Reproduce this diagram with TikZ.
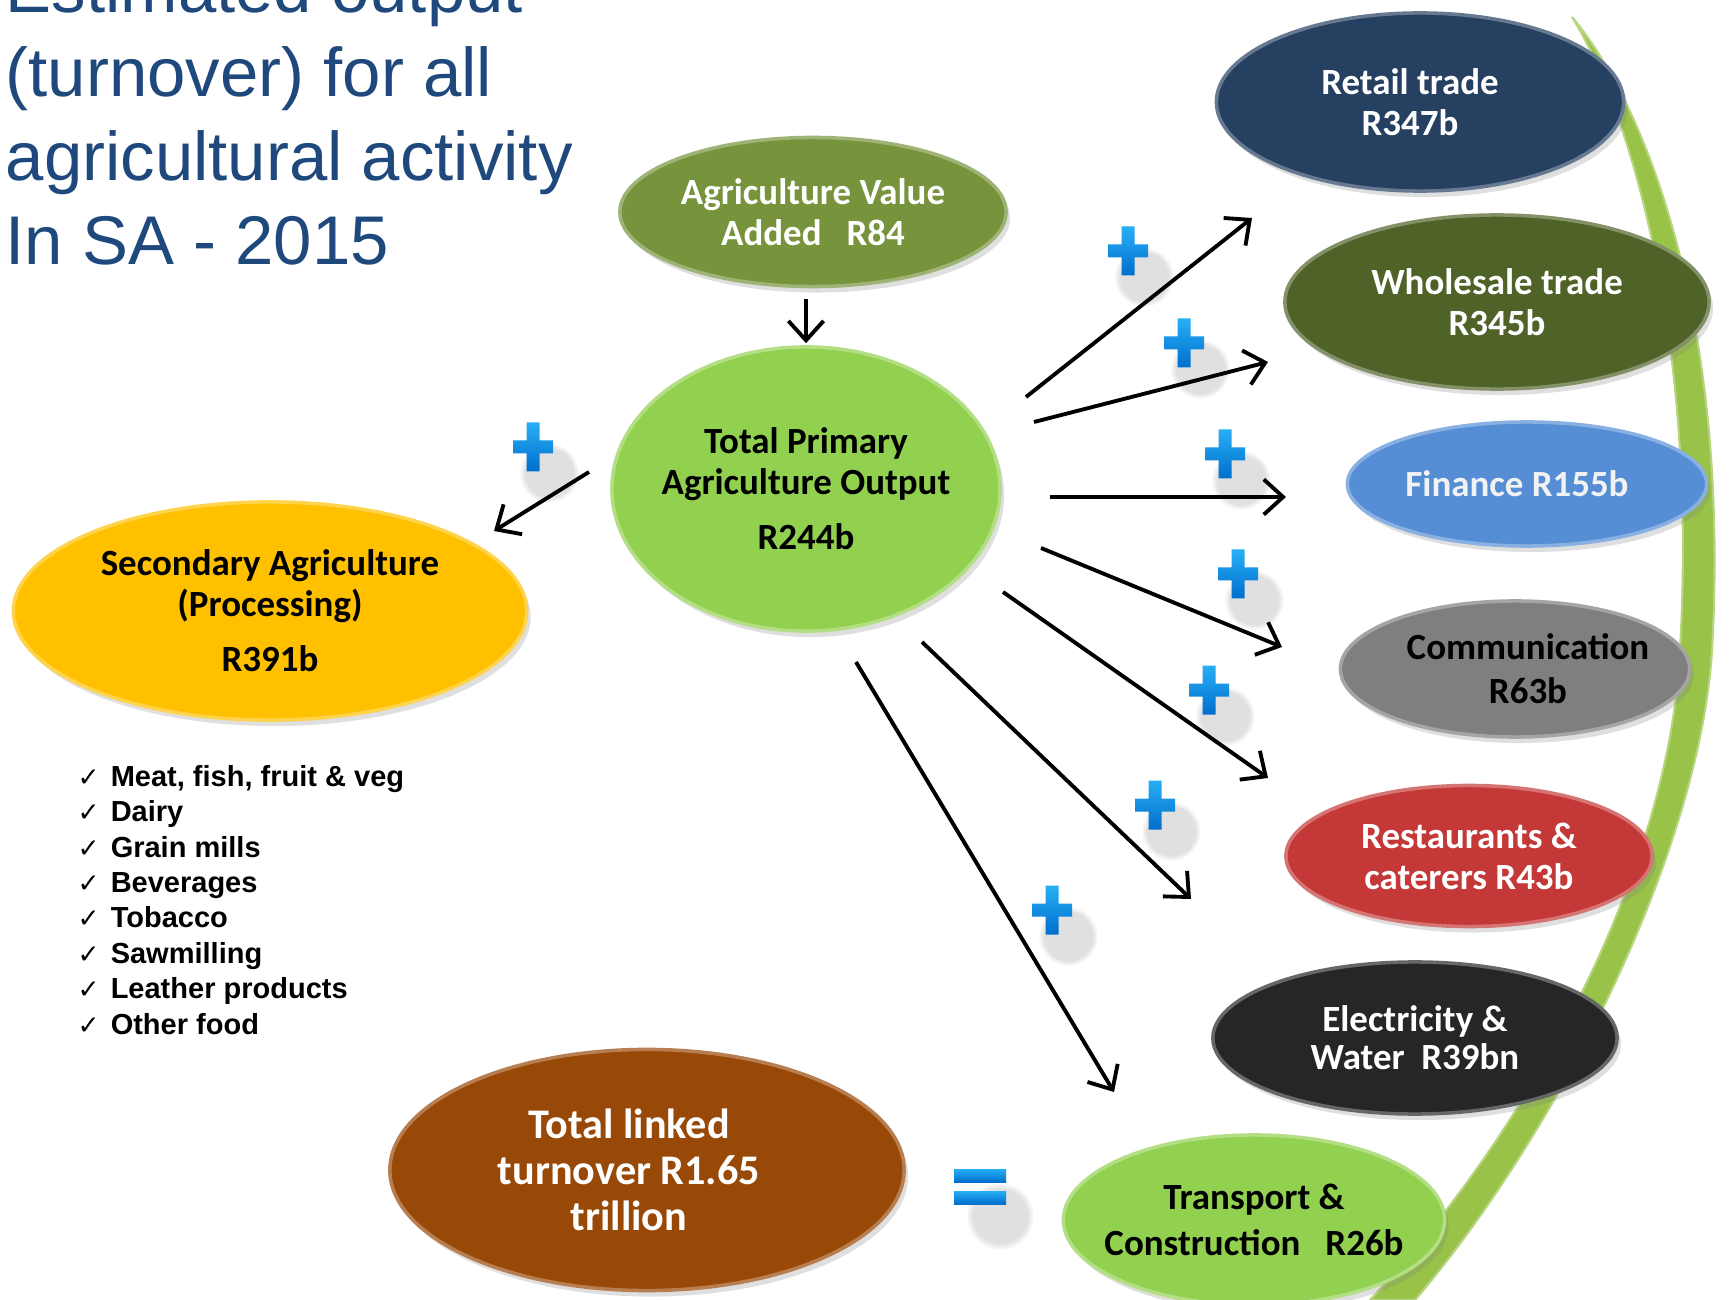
\documentclass[tikz,border=0pt]{standalone}
\usepackage{fontspec}
\setmainfont{Carlito}
\newfontfamily\arialfont{Liberation Sans}
\newfontfamily\tickfont{DejaVu Sans}
\usetikzlibrary{shapes.geometric,arrows.meta,shadows,fadings}

\definecolor{titleblue}{RGB}{31,73,125}
\definecolor{oliveleaf}{RGB}{119,147,60}
\definecolor{limegreen}{RGB}{146,208,80}
\definecolor{amber}{RGB}{255,192,0}
\definecolor{navyblob}{RGB}{38,64,97}
\definecolor{mossgreen}{RGB}{79,98,40}
\definecolor{skyblob}{RGB}{85,142,213}
\definecolor{greyblob}{RGB}{127,127,127}
\definecolor{redblob}{RGB}{196,56,56}
\definecolor{coalblob}{RGB}{38,38,38}
\definecolor{rustblob}{RGB}{152,72,7}
\definecolor{stemgreen}{RGB}{152,194,72}
\definecolor{plustop}{RGB}{40,175,245}
\definecolor{plusbot}{RGB}{0,110,205}

\newcommand{\checkitem}{\makebox[9.4pt][l]{\tickfont\mdseries\fontsize{7.5}{9}\selectfont ✓}}
% nudge a text line sideways inside its blob
\newcommand{\nudge}[1]{\hspace*{#1}}

\pgfdeclarelayer{edgelayer}
\pgfdeclarelayer{nodelayer}
\pgfsetlayers{edgelayer,nodelayer,main}
\tikzstyle{none}=[inner sep=0pt]
\tikzset{blob/.style={ellipse,fill=#1,draw=#1!70!white,line width=1pt,inner xsep=-0.5cm,inner ysep=-0.3cm,align=center,
    font=\bfseries\fontsize{10.5}{11.7}\selectfont,
    drop shadow={opacity=0.25,shadow xshift=0.04cm,shadow yshift=-0.06cm}}}
\tikzstyle{flow_arrow}=[-{Straight Barb[length=5.5pt,width=10pt]},draw=black,line width=1.1pt]
\tikzstyle{stem}=[fill=stemgreen,draw=stemgreen!70!white,line width=0.6pt]
\tikzset{plus_sign/.pic={
    \fill[black,opacity=0.12,path fading=circle with fuzzy edge 20 percent] (16,26) circle (30);
    \shade[top color=plustop,bottom color=plusbot] (-20,-6.5) -- (-6.5,-6.5) -- (-6.5,-24.5) -- (6.5,-24.5)
      -- (6.5,-6.5) -- (20,-6.5) -- (20,6.5) -- (6.5,6.5) -- (6.5,24.5) -- (-6.5,24.5) -- (-6.5,6.5)
      -- (-20,6.5) -- cycle;
  },
  equal_sign/.pic={
    \fill[black,opacity=0.12,path fading=circle with fuzzy edge 20 percent] (20,30) circle (34);
    \shade[top color=plustop,bottom color=plusbot] (-26,-17) rectangle (26,-4);
    \shade[top color=plustop,bottom color=plusbot] (-26,5) rectangle (26,18);
  }}

\begin{document}
\begin{tikzpicture}[x=0.01cm,y=-0.01cm]
	\useasboundingbox (0,0) rectangle (1729,1300);
	\begin{pgfonlayer}{edgelayer}
		\fill[white] (0,0) rectangle (1729,1300);
		\path[style=stem] (1572,17) .. controls (1650,110) and (1730,330) .. (1712,650)
			.. controls (1700,850) and (1560,1130) .. (1415,1300) -- (1370,1300)
			.. controls (1530,1130) and (1670,870) .. (1680,650)
			.. controls (1698,340) and (1630,110) .. (1572,17) -- cycle;
	\end{pgfonlayer}
	\begin{pgfonlayer}{nodelayer}
		\node [blob=oliveleaf, minimum width=3.86cm, minimum height=1.49cm, text=white] (0) at (813,212) {Agriculture Value\\Added~~~R84};
		\node [blob=limegreen, minimum width=3.88cm, minimum height=2.84cm] (1) at (806,489) {Total Primary\\Agriculture Output\\[4pt]R244b};
		\node [blob=amber, minimum width=5.13cm, minimum height=2.18cm] (2) at (270,611) {Secondary Agriculture\\(Processing)\\[4pt]R391b};
		\node [blob=navyblob, minimum width=4.07cm, minimum height=1.78cm, text=white] (3) at (1420,102) {\nudge{-0.2cm}Retail trade\\\nudge{-0.2cm}R347b};
		\node [blob=mossgreen, minimum width=4.24cm, minimum height=1.74cm, text=white] (4) at (1497,302) {Wholesale trade\\R345b};
		\node [blob=skyblob, minimum width=3.59cm, minimum height=1.24cm, text=black!5] (5) at (1527,484) {\nudge{-0.2cm}Finance R155b};
		\node [blob=greyblob, minimum width=3.49cm, minimum height=1.36cm, font=\bfseries\fontsize{10.5}{12.5}\selectfont] (6) at (1515,669) {\nudge{0.26cm}Communication\\\nudge{0.26cm}R63b};
		\node [blob=redblob, minimum width=3.66cm, minimum height=1.41cm, text=white] (7) at (1469,856) {Restaurants \&\\caterers R43b};
		\node [blob=coalblob, minimum width=4.04cm, minimum height=1.52cm, text=white, font=\bfseries\fontsize{10.5}{10.8}\selectfont] (8) at (1415,1038) {Electricity \&\\Water~~R39bn};
		\node [blob=limegreen, minimum width=3.81cm, minimum height=1.7cm, font=\bfseries\fontsize{10.5}{13.1}\selectfont] (9) at (1254,1220) {Transport \&\\Construction~~~R26b};
		\node [blob=rustblob, minimum width=5.14cm, minimum height=2.41cm, text=white, font=\bfseries\fontsize{12}{13.1}\selectfont] (10) at (647,1170) {\nudge{-0.36cm}Total linked\\\nudge{-0.36cm}turnover R1.65\\\nudge{-0.36cm}trillion};
		\pic (11) at (533,447) {plus_sign};
		\pic (12) at (1128,251) {plus_sign};
		\pic (13) at (1184,343) {plus_sign};
		\pic (14) at (1225,454) {plus_sign};
		\pic (15) at (1238,574) {plus_sign};
		\pic (16) at (1209,690) {plus_sign};
		\pic (17) at (1155,805) {plus_sign};
		\pic (18) at (1052,910) {plus_sign};
		\pic (19) at (980,1186) {equal_sign};
	\end{pgfonlayer}
	\node [style=none, anchor=base west, align=left, text=titleblue, font=\arialfont\fontsize{19.6}{23.9}\selectfont] (20) at (5,265) {Estimated output\\(turnover) for all\\agricultural activity\\In SA - 2015};
	\node [style=none, anchor=base west, align=left, font=\arialfont\bfseries\fontsize{8.25}{10.05}\selectfont] (21) at (77,1034) {\checkitem Meat, fish, fruit \& veg\\\checkitem Dairy\\\checkitem Grain mills\\\checkitem Beverages\\\checkitem Tobacco\\\checkitem Sawmilling\\\checkitem Leather products\\\checkitem Other food};
	\coordinate (30) at (589,472);
	\coordinate (31) at (494,531);
	\coordinate (32) at (1026,397);
	\coordinate (33) at (1252,218);
	\coordinate (34) at (1034,422);
	\coordinate (35) at (1268,362);
	\coordinate (36) at (1050,497);
	\coordinate (37) at (1286,497);
	\coordinate (38) at (1041,548);
	\coordinate (39) at (1282,647);
	\coordinate (40) at (1003,592);
	\coordinate (41) at (1268,778);
	\coordinate (42) at (922,642);
	\coordinate (43) at (1191,899);
	\coordinate (44) at (856,662);
	\coordinate (45) at (1114,1092);
	\begin{pgfonlayer}{edgelayer}
		\draw [style=flow_arrow, shorten <=0.11cm, shorten >=0.02cm] (0.south -| 1.north) to (1.north);
		\draw [style=flow_arrow] (30) to (31);
		\draw [style=flow_arrow] (32) to (33);
		\draw [style=flow_arrow] (34) to (35);
		\draw [style=flow_arrow] (36) to (37);
		\draw [style=flow_arrow] (38) to (39);
		\draw [style=flow_arrow] (40) to (41);
		\draw [style=flow_arrow] (42) to (43);
		\draw [style=flow_arrow] (44) to (45);
	\end{pgfonlayer}
\end{tikzpicture}
\end{document}
